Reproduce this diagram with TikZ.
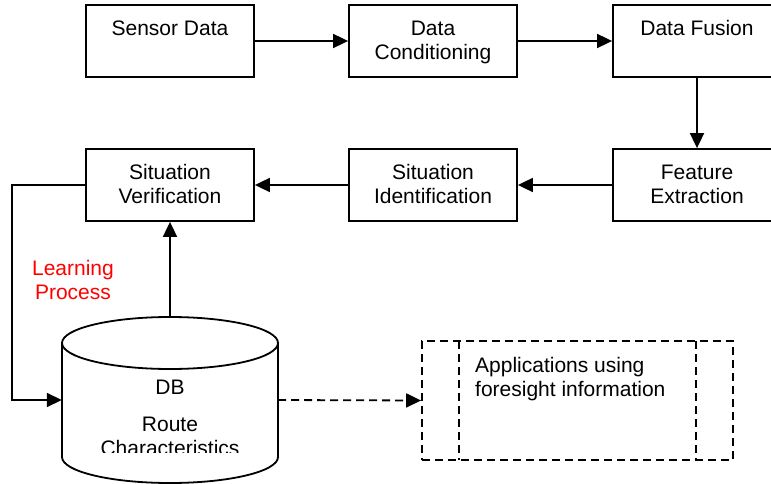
\documentclass[tikz,border=0pt]{standalone}
\usepackage{fontspec}
\setmainfont{Liberation Sans}
\usetikzlibrary{arrows.meta}
\newcommand{\mlines}[1]{\begin{tabular}[t]{@{}c@{}}#1\end{tabular}}
\begin{document}
\begin{tikzpicture}[x=1pt,y=-1pt,
  every node/.style={font=\fontsize{21}{24}\selectfont},
  stepbox/.style={draw, line width=1.8pt, minimum width=168pt, minimum height=72pt, inner sep=0pt},
  lbl/.style={anchor=base, inner sep=0pt},
  arr/.style={line width=1.8pt, -{Triangle[length=15pt,width=14pt]}},
  dashline/.style={line width=1.8pt, dash pattern=on 8pt off 5pt}]
\useasboundingbox (0,0) rectangle (771,484);
% top row
\node[stepbox] (sd) at (170,41) {};
\node[stepbox] (dc) at (433,41) {};
\node[stepbox] (df) at (697,41) {};
% second row
\node[stepbox] (sv) at (170,185) {};
\node[stepbox] (si) at (433,185) {};
\node[stepbox] (fe) at (697,185) {};
% labels
\node[lbl] at ([yshift=-31pt]sd.north) {Sensor Data};
\node[lbl] at ([yshift=-31pt]dc.north) {\mlines{Data\\Conditioning}};
\node[lbl] at ([yshift=-31pt]df.north) {Data Fusion};
\node[lbl] at ([yshift=-31pt]sv.north) {\mlines{Situation\\Verification}};
\node[lbl] at ([yshift=-31pt]si.north) {\mlines{Situation\\Identification}};
\node[lbl] at ([yshift=-31pt]fe.north) {\mlines{Feature\\Extraction}};
% database cylinder
\node[minimum width=216pt, minimum height=166pt, inner sep=0pt] (db) at (170,400) {};
\draw[line width=1.8pt, fill=white] (62,343) -- (62,457) arc[start angle=180, end angle=0, x radius=108, y radius=26] -- (278,343);
\draw[line width=1.8pt] (170,343) ellipse[x radius=108, y radius=26];
\node[lbl] at (170,394) {DB};
\begin{scope}
\clip (62,300) rectangle (278,452);
\node[lbl] at (170,431) {\mlines{Route\\Characteristics}};
\end{scope}
% applications box
\node[draw, dashline, minimum width=311pt, minimum height=119pt, inner sep=0pt] (app) at (577.5,400.5) {};
\draw[dashline] (459,341) -- (459,460);
\draw[dashline] (696,341) -- (696,460);
\node[anchor=base west, inner sep=0pt] at (475,372) {Applications using};
\node[anchor=base west, inner sep=0pt] at (475,396) {foresight information};
% learning process
\node[lbl, text=red] at (73,275) {\mlines{Learning\\Process}};
% connectors
\draw[arr] (sd.east) -- (dc.west);
\draw[arr] (dc.east) -- (df.west);
\draw[arr] (df.south) -- (fe.north);
\draw[arr] (fe.west) -- (si.east);
\draw[arr] (si.west) -- (sv.east);
\draw[arr] (db.north) -- (sv.south);
\draw[arr] (sv.west) -- ++(-73,0) |- (db.west);
\draw[arr, dash pattern=on 8pt off 5pt] (db.east) -- (app.west);
\end{tikzpicture}
\end{document}
